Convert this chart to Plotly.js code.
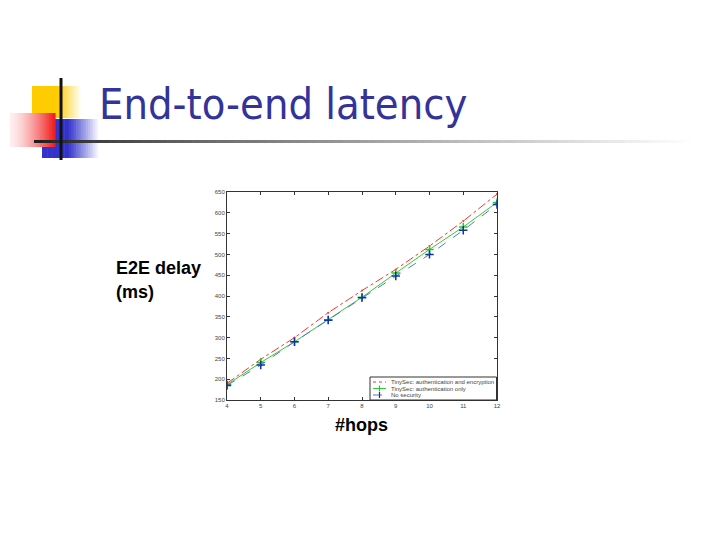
<!DOCTYPE html>
<html>
<head>
<meta charset="utf-8">
<script src="https://cdn.plot.ly/plotly-3.0.1.min.js"></script>
<style>html,body{margin:0;padding:0;background:#fff;}#chart{width:720px;height:540px;}</style>
</head>
<body>
<div id="chart"></div>
<script>
// Data
var hops = [4, 5, 6, 7, 8, 9, 10, 11, 12];
var authEnc = [190, 248, 300, 360, 413, 464, 520, 580, 645];
var authOnly = [187, 240, 290, 343, 397, 455, 512, 566, 625];
var noSec = [185, 234, 290, 342, 396, 448, 500, 558, 620];
var seriesNames = ['TinySec: authentication and encryption', 'TinySec: authentication only', 'No security'];
var yTicks = [150, 200, 250, 300, 350, 400, 450, 500, 550, 600, 650];

var W = 720, H = 540;
var PL = 227, PR = 497, PT = 192, PB = 400;
// convert page pixels to paper coords (relative to plot area)
function px(x){ return (x - PL) / (PR - PL); }
function py(y){ return (PB - y) / (PB - PT); }

var shapes = [];
function gradRect(x0, y0, x1, y1, colorFn, n) {
  var step = (x1 - x0) / n;
  for (var i = 0; i < n; i++) {
    shapes.push({type:'rect', xref:'paper', yref:'paper', layer:'above',
      x0: px(x0 + i*step), x1: px(x0 + (i+1)*step + 0.6), y0: py(y1), y1: py(y0),
      line:{width:0}, fillcolor: colorFn(i/(n-1))});
  }
}
function mix(c1, c2, t){
  return 'rgb(' + Math.round(c1[0]+(c2[0]-c1[0])*t) + ',' + Math.round(c1[1]+(c2[1]-c1[1])*t) + ',' + Math.round(c1[2]+(c2[2]-c1[2])*t) + ')';
}
// yellow square
gradRect(32, 86, 82, 118, function(t){ return t < 0.5 ? 'rgb(255,204,0)' : mix([255,204,0],[255,255,255],(t-0.5)/0.5); }, 30);
// blue square
gradRect(42, 119, 100, 158, function(t){ return t < 0.45 ? 'rgb(51,51,204)' : mix([51,51,204],[255,255,255],(t-0.45)/0.55); }, 34);
// red square (white on left to red on right)
gradRect(10, 113, 55, 147, function(t){ return mix([255,238,238],[240,30,30],Math.pow(t,1.4)); }, 30);
// gradient horizontal rule
gradRect(34, 140, 700, 143, function(t){ return mix([30,30,30],[255,255,255],Math.pow(t,0.8)); }, 80);
// vertical black line
shapes.push({type:'line', xref:'paper', yref:'paper', layer:'above', x0:px(61), x1:px(61), y0:py(78), y1:py(160), line:{color:'#111', width:3}});

var lineColors = ['#ff3030', '#33cc33', '#5577dd'];
var lineDash = ['dashdot', 'solid', 'dash'];

var traces = [
  {x: hops, y: authEnc, name: seriesNames[0], type:'scatter', mode:'lines+markers',
   line:{color:lineColors[0], width:1, dash:lineDash[0]},
   marker:{symbol:'circle', size:2, color:lineColors[0]}},
  {x: hops, y: authOnly, name: seriesNames[1], type:'scatter', mode:'lines+markers',
   line:{color:lineColors[1], width:1, dash:lineDash[1]},
   marker:{symbol:'cross-thin', size:6, line:{color:'#22cc22', width:1.5}}},
  {x: hops, y: noSec, name: seriesNames[2], type:'scatter', mode:'lines+markers',
   line:{color:lineColors[2], width:1, dash:lineDash[2]},
   marker:{symbol:'cross-thin', size:6, line:{color:'#1133aa', width:1.5}}}
];

// compact legend box (bottom right of plot)
var annotations = [];
shapes.push({type:'rect', xref:'paper', yref:'paper', layer:'above', x0:px(370), x1:px(496.5), y0:py(400), y1:py(377),
  fillcolor:'#fff', line:{color:'#333', width:1}});
for (var i = 0; i < 3; i++) {
  var yy = 382 + i * 6.5;
  shapes.push({type:'line', xref:'paper', yref:'paper', layer:'above', x0:px(373), x1:px(386), y0:py(yy), y1:py(yy),
    line:{color:lineColors[i], width:1, dash: i === 0 ? 'dot' : (i === 2 ? 'dash' : 'solid')}});
  annotations.push({text: seriesNames[i], xref:'paper', yref:'paper', x:px(389), y:py(yy), xanchor:'left', yanchor:'middle',
    showarrow:false, font:{family:'Liberation Sans, Arial', size:6, color:'#444'}});
}
// legend markers
shapes.push({type:'line', xref:'paper', yref:'paper', layer:'above', x0:px(379.5), x1:px(379.5), y0:py(385.5), y1:py(391.5), line:{color:'#22cc22', width:1.2}});
shapes.push({type:'line', xref:'paper', yref:'paper', layer:'above', x0:px(379.5), x1:px(379.5), y0:py(392), y1:py(398), line:{color:'#1133aa', width:1.2}});

annotations.push(
  {text:'End-to-end latency', xref:'paper', yref:'paper', x:px(97), y:py(104), xanchor:'left', yanchor:'middle',
   showarrow:false, font:{family:'DejaVu Sans Condensed, Liberation Sans', size:43, color:'#333399'}},
  {text:'<b>E2E delay</b>', xref:'paper', yref:'paper', x:px(114), y:py(268), xanchor:'left', yanchor:'middle',
   showarrow:false, font:{family:'Liberation Sans, Arial', size:18, color:'#000'}},
  {text:'<b>(ms)</b>', xref:'paper', yref:'paper', x:px(114), y:py(292), xanchor:'left', yanchor:'middle',
   showarrow:false, font:{family:'Liberation Sans, Arial', size:18, color:'#000'}},
  {text:'<b>#hops</b>', xref:'paper', yref:'paper', x:px(333), y:py(425), xanchor:'left', yanchor:'middle',
   showarrow:false, font:{family:'Liberation Sans, Arial', size:18, color:'#000'}}
);

var layout = {
  width: W, height: H, autosize:false,
  paper_bgcolor:'#fff', plot_bgcolor:'#fff',
  margin:{l:PL, r:W-PR, t:PT, b:H-PB, pad:0},
  showlegend:false,
  xaxis:{range:[4,12], tickvals:hops, ticks:'inside', ticklen:3, tickcolor:'#333', showline:true, mirror:'ticks',
         linecolor:'#333', linewidth:1, showgrid:false, zeroline:false,
         tickfont:{family:'Liberation Sans, Arial', size:6, color:'#444'}},
  yaxis:{range:[150,650], tickvals:yTicks, ticks:'inside', ticklen:3, tickcolor:'#333', showline:true, mirror:'ticks',
         linecolor:'#333', linewidth:1, showgrid:false, zeroline:false,
         tickfont:{family:'Liberation Sans, Arial', size:6, color:'#444'}},
  shapes: shapes,
  annotations: annotations
};

Plotly.newPlot('chart', traces, layout, {staticPlot:true, displayModeBar:false});
</script>
</body>
</html>
